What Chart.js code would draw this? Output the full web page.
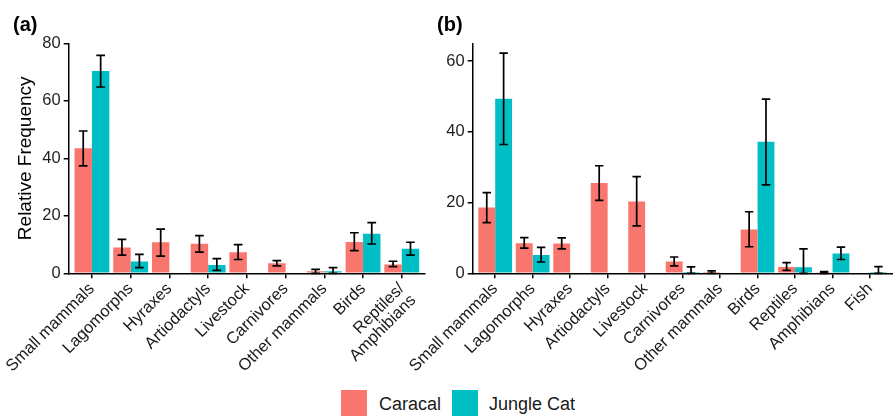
<!DOCTYPE html>
<html lang="en">
<head>
    <title>Caracal and Jungle Cat diet</title>
    <script src="https://cdn.jsdelivr.net/npm/chart.js"></script>
    <style>
        body { margin: 0; background: #fff; }
        #wrap { position: relative; width: 893px; height: 416px; font-family: "Liberation Sans", Arial, sans-serif; }
        canvas { position: absolute; top: 0; }
        .key { position: absolute; top: 390px; width: 26px; height: 26px; }
        .lab { position: absolute; top: 391px; height: 26px; line-height: 26px; font-size: 18px; color: #1a1a1a; }
    </style>
</head>
<body>
<div id="wrap">
    <canvas id="chartA" width="430" height="380" style="left:0"></canvas>
    <canvas id="chartB" width="513" height="380" style="left:380px"></canvas>
    <div class="key" style="left:341px;background:#F8766D"></div>
    <div class="lab" style="left:379px">Caracal</div>
    <div class="key" style="left:452px;background:#00BFC4"></div>
    <div class="lab" style="left:489px">Jungle Cat</div>
</div>

<script>
    // panel (a)
    const categoriesA = ['Small mammals', 'Lagomorphs', 'Hyraxes', 'Artiodactyls', 'Livestock',
        'Carnivores', 'Other mammals', 'Birds', ['Reptiles/', 'Amphibians']];
    const caracalA = [43.5, 9.0, 10.8, 10.3, 7.3, 3.5, 0.7, 10.9, 3.1];
    const caracalLowA = [37.4, 6.3, 6.0, 7.4, 4.8, 2.6, 0, 7.9, 2.3];
    const caracalHighA = [49.5, 11.8, 15.4, 13.1, 10.0, 4.4, 1.4, 14.1, 4.2];
    const jungleA = [70.4, 4.1, null, 2.9, null, null, 0.7, 13.8, 8.5];
    const jungleLowA = [64.8, 2.0, null, 1.0, null, null, 0, 10.2, 6.3];
    const jungleHighA = [75.8, 6.6, null, 5.1, null, null, 2.0, 17.6, 10.8];

    // panel (b)
    const categoriesB = ['Small mammals', 'Lagomorphs', 'Hyraxes', 'Artiodactyls', 'Livestock',
        'Carnivores', 'Other mammals', 'Birds', 'Reptiles', 'Amphibians', 'Fish'];
    const caracalB = [18.6, 8.5, 8.4, 25.5, 20.3, 3.3, 0.4, 12.4, 1.8, 0.3, null];
    const caracalLowB = [14.3, 7.1, 6.9, 20.6, 13.4, 2.1, 0, 7.5, 0.8, 0, null];
    const caracalHighB = [22.8, 10.1, 10.0, 30.4, 27.3, 4.6, 0.7, 17.4, 3.0, 0.5, null];
    const jungleB = [49.3, 5.2, null, null, null, 0.4, null, 37.2, 1.7, 5.6, 0.4];
    const jungleLowB = [36.4, 3.2, null, null, null, 0, null, 25.0, 0, 3.9, 0];
    const jungleHighB = [62.2, 7.3, null, null, null, 1.8, null, 49.2, 6.9, 7.4, 1.9];

    const tickA = [0, 20, 40, 60, 80];
    const tickB = [0, 20, 40, 60];

    Chart.defaults.font.family = '"Liberation Sans", Arial, sans-serif';
    Chart.defaults.color = '#1f1f1f';

    // draws the error bars from the low/high arrays kept on each dataset
    const errorBars = {
        id: 'errorBars',
        afterDatasetsDraw(chart) {
            const ctx = chart.ctx;
            const y = chart.scales.y;
            ctx.save();
            ctx.strokeStyle = '#000';
            ctx.lineWidth = 1.7;
            chart.data.datasets.forEach((ds, i) => {
                chart.getDatasetMeta(i).data.forEach((bar, j) => {
                    if (ds.data[j] == null) return;
                    const top = y.getPixelForValue(ds.high[j]);
                    const bottom = y.getPixelForValue(ds.low[j]);
                    const half = bar.width * 0.25;
                    ctx.beginPath();
                    ctx.moveTo(bar.x, top);
                    ctx.lineTo(bar.x, bottom);
                    ctx.moveTo(bar.x - half, top);
                    ctx.lineTo(bar.x + half, top);
                    ctx.moveTo(bar.x - half, bottom);
                    ctx.lineTo(bar.x + half, bottom);
                    ctx.stroke();
                });
            });
            ctx.restore();
        }
    };

    function makeChart(id, tag, labels, car, carLo, carHi, jun, junLo, junHi, yMax, ticks, opts) {
        const ctx = document.getElementById(id).getContext('2d');
        return new Chart(ctx, {
            type: 'bar',
            data: {
                labels: labels,
                datasets: [
                    { label: 'Caracal', data: car, low: carLo, high: carHi, backgroundColor: '#F8766D' },
                    { label: 'Jungle Cat', data: jun, low: junLo, high: junHi, backgroundColor: '#00BFC4' }
                ]
            },
            options: {
                responsive: false,
                animation: false,
                devicePixelRatio: 1,
                categoryPercentage: 0.9,
                barPercentage: 1.0,
                layout: { padding: { left: opts.padLeft, right: opts.padRight, top: 0, bottom: 0 } },
                plugins: {
                    legend: { display: false },
                    tooltip: { enabled: false },
                    title: {
                        display: true,
                        text: tag,
                        align: 'start',
                        color: '#000',
                        font: { size: 20, weight: 'bold' },
                        padding: { top: 13, bottom: 6.3 }
                    }
                },
                scales: {
                    x: {
                        type: 'category',
                        offset: true,
                        grid: { offset: false, drawOnChartArea: false, tickLength: 5, color: '#000', lineWidth: 1.5 },
                        border: { color: '#000', width: 1.5 },
                        ticks: { autoSkip: false, minRotation: 45, maxRotation: 45, padding: 2,
                            font: { size: 16.5, lineHeight: 1.0 }, color: '#1a1a1a' },
                        afterBuildTicks: s => {
                            s._startValue = -0.6;
                            s._valueRange = s.getLabels().length + 0.2;
                        },
                        afterFit: s => {
                            s.height = 380 - 273.3;
                            s.paddingLeft = 0;
                            s.paddingRight = 0;
                        }
                    },
                    y: {
                        min: 0,
                        max: yMax,
                        grid: { drawOnChartArea: false, tickLength: 5, color: '#000', lineWidth: 1.5 },
                        border: { color: '#000', width: 1.5 },
                        ticks: { includeBounds: false, padding: 3, font: { size: 16.5 }, color: '#1f1f1f' },
                        afterBuildTicks: s => { s.ticks = ticks.map(v => ({ value: v })); },
                        title: {
                            display: opts.yTitle,
                            text: 'Relative Frequency',
                            color: '#000',
                            font: { size: 19 },
                            padding: { top: 1.6, bottom: 0 }
                        },
                        afterFit: s => { s.width = opts.yWidth; }
                    }
                }
            },
            plugins: [errorBars]
        });
    }

    makeChart('chartA', '(a)', categoriesA, caracalA, caracalLowA, caracalHighA,
        jungleA, jungleLowA, jungleHighA, 80, tickA,
        { padLeft: 13, padRight: 5, yWidth: 55.7, yTitle: true });

    makeChart('chartB', '(b)', categoriesB, caracalB, caracalLowB, caracalHighB,
        jungleB, jungleLowB, jungleHighB, 65, tickB,
        { padLeft: 57, padRight: 0.5, yWidth: 35.7, yTitle: false });
</script>
</body>
</html>
